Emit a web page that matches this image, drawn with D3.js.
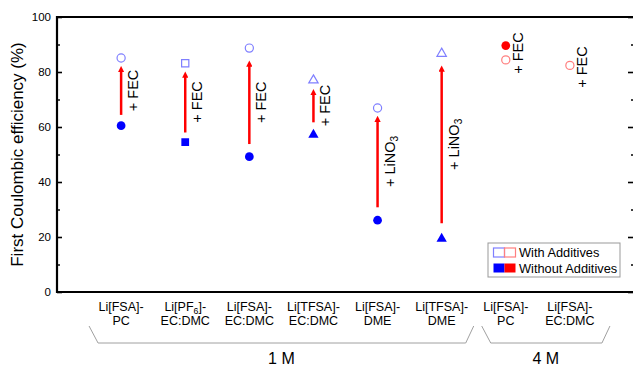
<!DOCTYPE html>
<html lang="en">
    <head>
        <meta charset="utf-8">
        <title>First Coulombic efficiency</title>
        <script src="https://d3js.org/d3.v7.min.js"></script>
        <style type="text/css">
            body { margin: 0; background: #fff; }
            text { font-family: "Liberation Sans", Arial, sans-serif; fill: #000; }
        </style>
    </head>
    <body>
        <script type="text/javascript">

            // electrolyte names (two lines), |x| = subscript
            var catLine1 = ["Li[FSA]-", "Li[PF|6|]-", "Li[FSA]-", "Li[TFSA]-", "Li[FSA]-", "Li[TFSA]-", "Li[FSA]-", "Li[FSA]-"];
            var catLine2 = ["PC", "EC:DMC", "EC:DMC", "EC:DMC", "DME", "DME", "PC", "EC:DMC"];

            // FCE values (%)
            var withAdditives    = [85.1, 83.2, 88.7, 77.0, 66.9, 86.7, 84.4, 82.4];
            var withoutAdditives = [60.5, 54.5, 49.2, 57.2, 26.1, 19.4, 89.6, null];
            var markerShape = ["circle", "square", "circle", "triangle", "circle", "triangle", "circle", "circle"];
            var concentration = ["1 M", "1 M", "1 M", "1 M", "1 M", "1 M", "4 M", "4 M"];
            var additive = ["FEC", "FEC", "FEC", "FEC", "LiNO|3|", "LiNO|3|", "FEC", "FEC"];

            // arrows (start/end, %), label centre (%)
            var arrowFrom = [64.4, 58.0, 53.8, 61.7, 30.8, 25.0, null, null];
            var arrowTo   = [82.2, 80.2, 84.2, 73.8, 64.1, 82.4, null, null];
            var labelAt   = [73.3, 69.1, 69.0, 67.8, 47.5, 53.7, 86.9, 81.8];

            var groups = [{label: "1 M", from: 0, to: 5}, {label: "4 M", from: 6, to: 7}];
            var yTicks = [0, 20, 40, 60, 80, 100];
            var yMinor = [10, 30, 50, 70, 90];

            var W = 633, H = 366;
            var pLeft = 57, pRight = 634, pTop = 17, pBottom = 292;

            var colors = {
                "1 M": {fill: "#0000ff", open: "#7f7fff"},
                "4 M": {fill: "#ff0000", open: "#ff7f7f"}
            };

            var x = d3.scaleLinear().domain([0, 9]).range([pLeft, pRight]);
            var y = d3.scaleLinear().domain([0, 100]).range([pBottom, pTop]);

            var svg = d3.select("body").append("svg")
                .attr("width", W)
                .attr("height", H);

            var defs = svg.append("defs");
            defs.append("marker")
                .attr("id", "head")
                .attr("viewBox", "0 0 10 10")
                .attr("refX", 2).attr("refY", 5)
                .attr("markerWidth", 2.5).attr("markerHeight", 2.5)
                .attr("orient", "auto")
                .attr("markerUnits", "strokeWidth")
              .append("path")
                .attr("d", "M0,0 L10,5 L0,10 z")
                .attr("fill", "#ff0000");

            // helper: text with |sub| parts
            function richText(sel, str, fs) {
                var parts = str.split("|");
                parts.forEach(function(p, i) {
                    if (p === "") return;
                    var t = sel.append("tspan").text(p);
                    if (i % 2 === 1) {
                        t.style("font-size", (fs * 0.7) + "px").attr("dy", fs * 0.25);
                    } else if (i > 0) {
                        t.attr("dy", -fs * 0.25);
                    }
                });
            }

            // y axis left (ticks inward)
            var yAxis = svg.append("g")
                .attr("transform", "translate(" + pLeft + ",0)")
                .call(d3.axisLeft(y).tickValues(yTicks).tickSizeInner(-5).tickSizeOuter(0).tickPadding(6));
            yAxis.selectAll("text").style("font-size", "11.5px").style("font-family", "Liberation Sans, Arial, sans-serif");
            yAxis.selectAll("line").attr("stroke-width", 1.6);
            yAxis.select(".domain").remove();

            svg.append("g")
                .attr("transform", "translate(" + pLeft + ",0)")
                .call(d3.axisLeft(y).tickValues(yMinor).tickSizeInner(-3).tickSizeOuter(0).tickFormat(""))
                .call(function(g) { g.select(".domain").remove(); g.selectAll("line").attr("stroke-width", 1.4); });

            // right axis (no labels)
            svg.append("g")
                .attr("transform", "translate(" + pRight + ",0)")
                .call(d3.axisRight(y).tickValues(yTicks).tickSizeInner(-6).tickSizeOuter(0).tickFormat(""))
                .call(function(g) { g.select(".domain").remove(); g.selectAll("line").attr("stroke-width", 1.6); });
            svg.append("g")
                .attr("transform", "translate(" + pRight + ",0)")
                .call(d3.axisRight(y).tickValues(yMinor).tickSizeInner(-3).tickSizeOuter(0).tickFormat(""))
                .call(function(g) { g.select(".domain").remove(); g.selectAll("line").attr("stroke-width", 1.4); });

            // frame
            svg.append("path")
                .attr("d", "M" + pRight + "," + pTop + "H" + pLeft + "V" + pBottom + "H" + pRight)
                .attr("fill", "none")
                .attr("stroke", "#000")
                .attr("stroke-width", 2.2);

            // y title
            svg.append("text")
                .attr("transform", "translate(23," + ((pTop + pBottom) / 2) + ") rotate(-90)")
                .attr("text-anchor", "middle")
                .style("font-size", "17px")
                .text("First Coulombic efficiency (%)");

            var idx = d3.range(catLine1.length);

            // arrows
            svg.selectAll(".arrow")
                .data(idx.filter(function(i) { return arrowFrom[i] != null; }))
                .enter().append("line")
                .attr("class", "arrow")
                .attr("x1", function(i) { return x(i + 1); })
                .attr("x2", function(i) { return x(i + 1); })
                .attr("y1", function(i) { return y(arrowFrom[i]); })
                .attr("y2", function(i) { return y(arrowTo[i]) + 5; })
                .attr("stroke", "#ff0000")
                .attr("stroke-width", 2.5)
                .attr("marker-end", "url(#head)");

            // additive labels
            svg.selectAll(".addlab")
                .data(idx)
                .enter().append("text")
                .attr("class", "addlab")
                .attr("transform", function(i) {
                    return "translate(" + (x(i + 1) + 17) + "," + y(labelAt[i]) + ") rotate(-90)";
                })
                .attr("text-anchor", "middle")
                .style("font-size", "14.5px")
                .each(function(i) { richText(d3.select(this), "+ " + additive[i], 14.5); });

            function symbolFor(s) {
                if (s === "square") return d3.symbolSquare;
                if (s === "triangle") return d3.symbolTriangle;
                return d3.symbolCircle;
            }
            function sizeFor(s) {
                if (s === "triangle") return 38;
                return 52;
            }

            // with additives (open)
            svg.selectAll(".open")
                .data(idx)
                .enter().append("path")
                .attr("class", "open")
                .attr("transform", function(i) { return "translate(" + x(i + 1) + "," + y(withAdditives[i]) + ")"; })
                .attr("d", function(i) { return d3.symbol().type(symbolFor(markerShape[i])).size(sizeFor(markerShape[i]))(); })
                .attr("fill", "none")
                .attr("stroke", function(i) { return colors[concentration[i]].open; })
                .attr("stroke-width", 1.2);

            // without additives (filled)
            svg.selectAll(".filled")
                .data(idx.filter(function(i) { return withoutAdditives[i] != null; }))
                .enter().append("path")
                .attr("class", "filled")
                .attr("transform", function(i) { return "translate(" + x(i + 1) + "," + y(withoutAdditives[i]) + ")"; })
                .attr("d", function(i) { return d3.symbol().type(symbolFor(markerShape[i])).size(sizeFor(markerShape[i]) + 8)(); })
                .attr("fill", function(i) { return colors[concentration[i]].fill; });

            // category labels
            var cat = svg.selectAll(".cat")
                .data(idx)
                .enter().append("g")
                .attr("class", "cat")
                .attr("transform", function(i) { return "translate(" + x(i + 1) + ",0)"; });
            cat.append("text")
                .attr("y", 311)
                .attr("text-anchor", "middle")
                .style("font-size", "12.5px")
                .each(function(i) { richText(d3.select(this), catLine1[i], 12.5); });
            cat.append("text")
                .attr("y", 325)
                .attr("text-anchor", "middle")
                .style("font-size", "12.5px")
                .text(function(i) { return catLine2[i]; });

            // concentration braces
            groups.forEach(function(g, k) {
                var shift = k > 0 ? 8 : 0;
                var x0 = x(g.from + 0.5) + shift, x1 = x(g.to + 1.5) + shift;
                svg.append("path")
                    .attr("d", "M" + x0 + ",326 L" + (x0 + 9) + ",343 H" + (x1 - 8) + " L" + x1 + ",326")
                    .attr("fill", "none")
                    .attr("stroke", "#a0a0a0")
                    .attr("stroke-width", 1);
                svg.append("text")
                    .attr("x", (x0 + x1) / 2)
                    .attr("y", 364)
                    .attr("text-anchor", "middle")
                    .style("font-size", "16px")
                    .text(g.label);
            });

            // legend
            var lg = svg.append("g").attr("transform", "translate(488,243)");
            lg.append("rect")
                .attr("width", 132).attr("height", 34)
                .attr("fill", "#fff").attr("stroke", "#999").attr("stroke-width", 1);
            var legendRows = [{label: "With Additives", kind: "open"}, {label: "Without Additives", kind: "fill"}];
            legendRows.forEach(function(r, k) {
                ["1 M", "4 M"].forEach(function(c, j) {
                    var rect = lg.append("rect")
                        .attr("x", 5.5 + j * 11).attr("y", 5 + k * 15.5)
                        .attr("width", 11).attr("height", 9);
                    if (r.kind === "open") {
                        rect.attr("fill", "none").attr("stroke", colors[c].open).attr("stroke-width", 1.2);
                    } else {
                        rect.attr("fill", colors[c].fill);
                    }
                });
                lg.append("text")
                    .attr("x", 31).attr("y", 14 + k * 15.5)
                    .style("font-size", "12.8px")
                    .text(r.label);
            });
        </script>
    </body>
</html>
